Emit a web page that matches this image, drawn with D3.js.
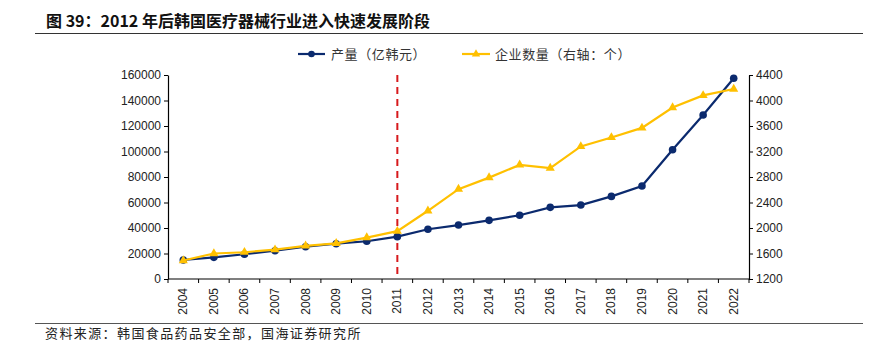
<!DOCTYPE html>
<html><head><meta charset="utf-8">
<script src="https://cdn.jsdelivr.net/npm/d3@7"></script>
<style>
body{margin:0;background:#fff;}
svg{display:block;}
</style></head>
<body>
<svg id="chart" width="876" height="345"></svg>
<script>
const years = ["2004","2005","2006","2007","2008","2009","2010","2011","2012","2013","2014","2015","2016","2017","2018","2019","2020","2021","2022"];
const production = [14900,17000,19400,22200,25300,27700,29600,33200,39000,42300,46000,50000,56200,58000,64800,72900,101400,128600,157400];
const companies = [1490,1600,1620,1660,1720,1760,1850,1950,2270,2610,2790,2990,2940,3280,3420,3570,3890,4080,4180];
const leftTicks = [0,20000,40000,60000,80000,100000,120000,140000,160000];
const rightTicks = [1200,1600,2000,2400,2800,3200,3600,4000,4400];
const markerYear = "2011";
const title = "图 39：2012 年后韩国医疗器械行业进入快速发展阶段";
const source = "资料来源：韩国食品药品安全部，国海证券研究所";
const legendNames = ["产量（亿韩元）","企业数量（右轴：个）"];

const svg = d3.select("#chart");
const L = 168, R = 749, T = 75, B = 279;
const blue = "#0b2a6e", yellow = "#ffc000", red = "#d7191c";
const latin = "Arial, 'Liberation Sans', sans-serif";
const cjk = "'Noto Sans CJK SC', sans-serif";

// title
svg.append("text").attr("x",46).attr("y",27).attr("font-family",cjk).attr("font-weight","bold")
  .attr("font-size",16).attr("fill","#111").text(title);
svg.append("line").attr("x1",35).attr("x2",863).attr("y1",33.5).attr("y2",33.5).attr("stroke","#333").attr("stroke-width",1.2);
svg.append("line").attr("x1",35).attr("x2",863).attr("y1",323.5).attr("y2",323.5).attr("stroke","#555").attr("stroke-width",1);
svg.append("text").attr("x",45).attr("y",338).attr("font-family",cjk).attr("font-size",13)
  .attr("letter-spacing",1.4).attr("fill","#222").text(source);

const x = d3.scaleBand().domain(years).range([L,R]);
const yL = d3.scaleLinear().domain([0,160000]).range([B,T]);
const yR = d3.scaleLinear().domain([1200,4400]).range([B,T]);

const axL = svg.append("g").attr("transform",`translate(${L},0)`)
  .call(d3.axisLeft(yL).tickValues(leftTicks).tickSize(4).tickSizeOuter(0).tickFormat(d3.format("d")));
const axR = svg.append("g").attr("transform",`translate(${R},0)`)
  .call(d3.axisRight(yR).tickValues(rightTicks).tickSize(4).tickSizeOuter(0).tickFormat(d3.format("d")));
[axL,axR].forEach(g=>{
  g.select(".domain").attr("stroke","#000").attr("stroke-width",1.2);
  g.selectAll(".tick line").attr("stroke","#000");
  g.selectAll("text").attr("font-family",latin).attr("font-size",12).attr("fill","#222");
});

// x axis
const axX = svg.append("g").attr("transform",`translate(0,${B})`);
axX.append("line").attr("x1",L).attr("x2",R).attr("stroke","#000").attr("stroke-width",1.2);
const bounds = years.map(y=>x(y)).concat([R]);
axX.selectAll(".xt").data(bounds).join("line").attr("class","xt")
  .attr("x1",d=>d).attr("x2",d=>d).attr("y1",0).attr("y2",4).attr("stroke","#000");
axX.selectAll(".xl").data(years).join("text").attr("class","xl")
  .attr("transform",d=>`translate(${x(d)+x.bandwidth()/2+4},9) rotate(-90)`)
  .attr("text-anchor","end").attr("font-family",latin).attr("font-size",12).attr("fill","#222").text(d=>d);

// red dashed line
const rx = x(markerYear)+x.bandwidth()/2;
svg.append("line").attr("x1",rx).attr("x2",rx).attr("y1",T).attr("y2",B)
  .attr("stroke",red).attr("stroke-width",2).attr("stroke-dasharray","7,5");

const cx = d=>x(d)+x.bandwidth()/2;
// production line
svg.append("path").datum(years.map((y,i)=>[cx(y),yL(production[i])]))
  .attr("d",d3.line()).attr("fill","none").attr("stroke",blue).attr("stroke-width",2.2);
svg.selectAll(".pc").data(years).join("circle").attr("class","pc")
  .attr("cx",cx).attr("cy",(d,i)=>yL(production[i])).attr("r",3.8).attr("fill",blue);

// companies line
svg.append("path").datum(years.map((y,i)=>[cx(y),yR(companies[i])]))
  .attr("d",d3.line()).attr("fill","none").attr("stroke",yellow).attr("stroke-width",2.2);
const tri = d3.symbol().type(d3.symbolTriangle).size(36);
svg.selectAll(".cc").data(years).join("path").attr("class","cc")
  .attr("transform",(d,i)=>`translate(${cx(d)},${yR(companies[i])})`).attr("d",tri()).attr("fill",yellow);

// legend
const lg = svg.append("g");
lg.append("line").attr("x1",298).attr("x2",325).attr("y1",54).attr("y2",54).attr("stroke",blue).attr("stroke-width",2.2);
lg.append("circle").attr("cx",311.5).attr("cy",54).attr("r",3.3).attr("fill",blue);
lg.append("text").attr("x",331).attr("y",58.5).attr("font-family",cjk).attr("font-size",13)
  .attr("letter-spacing",0.6).attr("fill","#333").text(legendNames[0]);
lg.append("line").attr("x1",462).attr("x2",490).attr("y1",54).attr("y2",54).attr("stroke",yellow).attr("stroke-width",2.2);
lg.append("path").attr("transform","translate(476,54)").attr("d",d3.symbol().type(d3.symbolTriangle).size(30)()).attr("fill",yellow);
lg.append("text").attr("x",495).attr("y",58.5).attr("font-family",cjk).attr("font-size",13)
  .attr("letter-spacing",0.6).attr("fill","#333").text(legendNames[1]);
</script>
</body></html>
